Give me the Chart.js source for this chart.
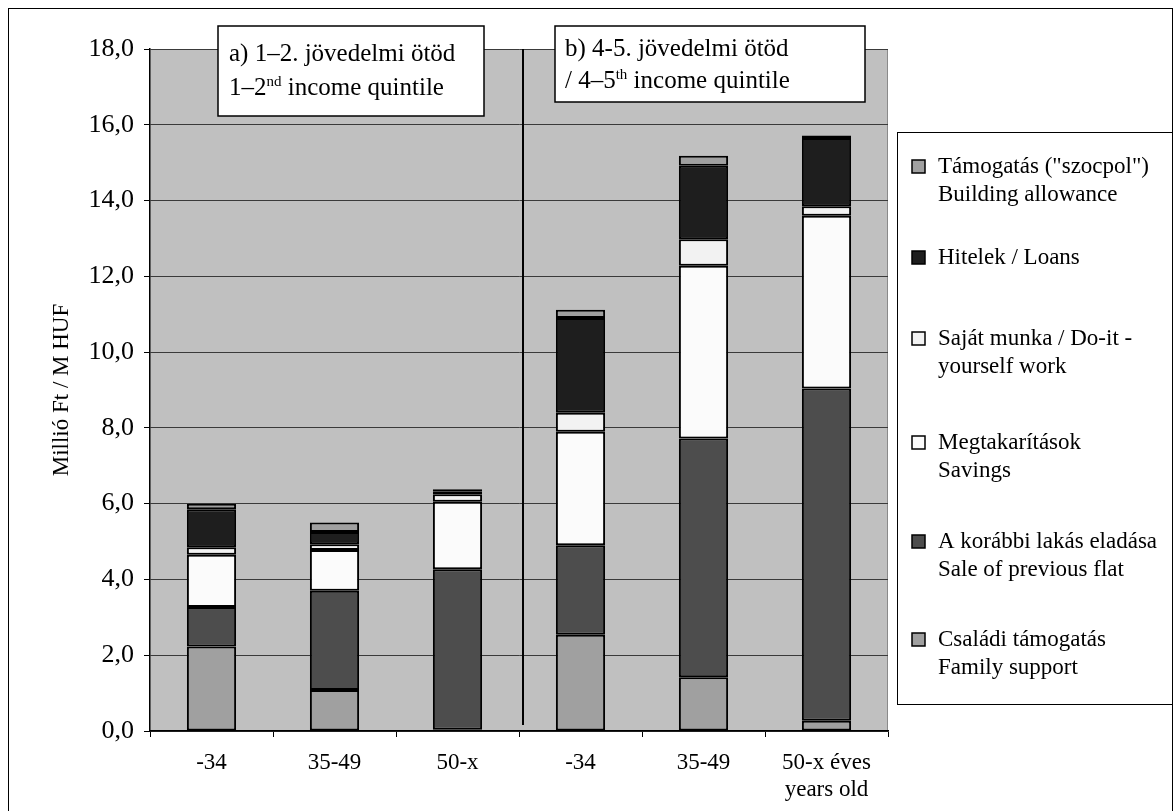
<!DOCTYPE html>
<html>
<head>
<meta charset="utf-8">
<script src="https://cdn.jsdelivr.net/npm/chart.js@4.4.0/dist/chart.umd.min.js"></script>
<style>
    html, body { margin: 0; padding: 0; background: #fff; }
    #wrap { position: relative; width: 1174px; height: 811px; }
</style>
</head>
<body>
<div id="wrap"><canvas id="fundChart"></canvas></div>
<script>
// Age groups in the two income groups
const categories = ['-34', '35-49', '50-x', '-34', '35-49', ['50-x éves', 'years old']];

// Financing sources, million HUF (stacked bottom to top)
const familySupport = [2.23, 1.08, 0.03, 2.54, 1.42, 0.27];
const saleOfFlat    = [1.04, 2.62, 4.24, 2.36, 6.30, 8.77];
const savings       = [1.38, 1.08, 1.78, 3.00, 4.56, 4.56];
const diyWork       = [0.20, 0.15, 0.20, 0.50, 0.70, 0.25];
const loans         = [1.00, 0.32, 0.08, 2.50, 1.94, 1.80];
const allowance     = [0.15, 0.25, 0.05, 0.22, 0.26, 0.07];

const yTicks = [0, 2, 4, 6, 8, 10, 12, 14, 16, 18];

const FONT = '"Liberation Serif", "Times New Roman", serif';

// grey plot background
const plotBg = {
    id: 'plotBg',
    beforeDraw(chart) {
        const { ctx, chartArea: a } = chart;
        ctx.save();
        ctx.fillStyle = '#c0c0c0';
        ctx.fillRect(a.left, a.top, a.right - a.left, a.bottom - a.top);
        ctx.strokeStyle = '#8a8a8a';
        ctx.lineWidth = 1;
        ctx.beginPath();
        ctx.moveTo(a.right - 0.5, a.top);
        ctx.lineTo(a.right - 0.5, a.bottom);
        ctx.stroke();
        ctx.restore();
    }
};

// text with a superscript part: parts = [[text, isSup], ...]
function drawRich(ctx, parts, x, y, size) {
    let cx = x;
    parts.forEach(([t, sup]) => {
        ctx.font = (sup ? Math.round(size * 0.6) : size) + 'px ' + FONT;
        ctx.fillText(t, cx, sup ? y - size * 0.38 : y);
        cx += ctx.measureText(t).width;
    });
}

// outer frame, axis title, separator line, group boxes and legend
const extras = {
    id: 'extras',
    afterDraw(chart) {
        const { ctx, chartArea: a } = chart;
        const x = chart.scales.x;
        ctx.save();

        // frame round the whole chart
        ctx.strokeStyle = '#000';
        ctx.lineWidth = 1;
        ctx.strokeRect(8.5, 8.5, 1164, 830);

        // y axis title
        ctx.save();
        ctx.translate(62, (a.top + a.bottom) / 2);
        ctx.rotate(-Math.PI / 2);
        ctx.fillStyle = '#000';
        ctx.font = '23px ' + FONT;
        ctx.textAlign = 'center';
        ctx.textBaseline = 'middle';
        ctx.fillText('Millió Ft / M HUF', 0, 0);
        ctx.restore();

        // separator between the income groups
        const sepX = Math.round((x.getPixelForValue(2) + x.getPixelForValue(3)) / 2) + 4;
        ctx.lineWidth = 2;
        ctx.beginPath();
        ctx.moveTo(sepX, a.top);
        ctx.lineTo(sepX, a.bottom - 6);
        ctx.stroke();

        // group title boxes
        ctx.lineWidth = 1.5;
        ctx.fillStyle = '#fff';
        ctx.fillRect(218, 26, 266, 90);
        ctx.strokeRect(218, 26, 266, 90);
        ctx.fillRect(555, 26, 310, 76);
        ctx.strokeRect(555, 26, 310, 76);

        ctx.fillStyle = '#000';
        ctx.textBaseline = 'alphabetic';
        ctx.textAlign = 'left';
        drawRich(ctx, [['a) 1–2. jövedelmi ötöd', false]], 229, 61, 25);
        drawRich(ctx, [['1–2', false], ['nd', true], [' income quintile', false]], 229, 95, 25);
        drawRich(ctx, [['b) 4-5. jövedelmi ötöd', false]], 565, 56, 25);
        drawRich(ctx, [['/ 4–5', false], ['th', true], [' income quintile', false]], 565, 88, 25);

        // legend box
        ctx.fillStyle = '#fff';
        ctx.fillRect(897, 132, 275, 572);
        ctx.lineWidth = 1;
        ctx.strokeRect(897.5, 132.5, 275, 572);

        const rows = [167, 258, 339, 443, 542, 640];
        const sets = chart.data.datasets.slice().reverse();
        ctx.textBaseline = 'middle';
        ctx.font = '23px ' + FONT;
        sets.forEach((ds, i) => {
            const top = rows[i];
            ctx.fillStyle = ds.backgroundColor;
            ctx.fillRect(912, top - 7, 13, 13);
            ctx.strokeStyle = '#000';
            ctx.lineWidth = 1.5;
            ctx.strokeRect(912, top - 7, 13, 13);
            ctx.fillStyle = '#000';
            ds.legendLines.forEach((line, j) => {
                ctx.fillText(line, 938, top + j * 28);
            });
        });
        ctx.restore();
    }
};

function seg(label, lines, data, color) {
    return {
        label: label,
        legendLines: lines,
        data: data,
        backgroundColor: color,
        borderColor: '#000',
        borderWidth: 2,
        borderSkipped: false,
        categoryPercentage: 1.0,
        barPercentage: 0.4
    };
}

const ctx = document.getElementById('fundChart').getContext('2d');
new Chart(ctx, {
    type: 'bar',
    data: {
        labels: categories,
        datasets: [
            seg('Családi támogatás', ['Családi támogatás', 'Family support'], familySupport, '#a0a0a0'),
            seg('A korábbi lakás eladása', ['A korábbi lakás eladása', 'Sale of previous flat'], saleOfFlat, '#4d4d4d'),
            seg('Megtakarítások', ['Megtakarítások', 'Savings'], savings, '#fbfbfb'),
            seg('Saját munka', ['Saját munka / Do-it -', 'yourself work'], diyWork, '#f2f2f2'),
            seg('Hitelek', ['Hitelek / Loans'], loans, '#1e1e1e'),
            seg('Támogatás', ['Támogatás ("szocpol")', 'Building allowance'], allowance, '#a0a0a0')
        ]
    },
    options: {
        responsive: true,
        maintainAspectRatio: false,
        animation: false,
        layout: { padding: { top: 49, right: 286, left: 0, bottom: 0 } },
        plugins: {
            legend: { display: false },
            tooltip: { enabled: false }
        },
        scales: {
            x: {
                stacked: true,
                afterFit(scale) { scale.height = 80; },
                grid: {
                    offset: true,
                    drawOnChartArea: false,
                    drawTicks: true,
                    tickLength: 6,
                    color: '#000'
                },
                border: { color: '#000', width: 1.5 },
                ticks: {
                    color: '#000',
                    padding: 12,
                    maxRotation: 0,
                    font: { family: FONT, size: 23 },
                    lineHeight: 1.05
                }
            },
            y: {
                stacked: true,
                min: 0,
                max: 18,
                afterFit(scale) { scale.width = 150; },
                afterBuildTicks(scale) {
                    scale.ticks = yTicks.map(v => ({ value: v }));
                },
                grid: {
                    color: '#3a3a3a',
                    lineWidth: 1,
                    tickLength: 6,
                    tickColor: '#000'
                },
                border: { color: '#000', width: 1.5 },
                ticks: {
                    color: '#000',
                    padding: 10,
                    font: { family: FONT, size: 26 },
                    callback: v => v.toFixed(1).replace('.', ',')
                }
            }
        }
    },
    plugins: [plotBg, extras]
});
</script>
</body>
</html>
